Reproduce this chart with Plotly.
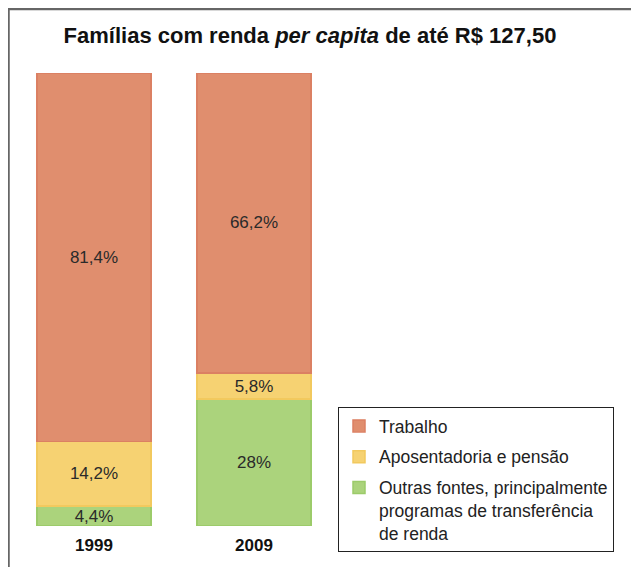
import plotly.graph_objects as go

years = ["1999", "2009"]
trabalho = [81.4, 66.2]
aposentadoria = [14.2, 5.8]
outras = [4.4, 28.0]
labels_trabalho = ["81,4%", "66,2%"]
labels_aposentadoria = ["14,2%", "5,8%"]
labels_outras = ["4,4%", "28%"]

names = ["Trabalho", "Aposentadoria e pensão",
         "Outras fontes, principalmente<br>programas de transferência<br>de renda"]
fills = ["#E08E6E", "#F6D272", "#ABD37C"]
edges = ["#DB8063", "#F2C95E", "#9CCB6A"]

FONT = "Liberation Sans, Arial, sans-serif"

fig = go.Figure()
series = [(outras, labels_outras, 2), (aposentadoria, labels_aposentadoria, 1), (trabalho, labels_trabalho, 0)]
for vals, labs, i in series:
    fig.add_trace(go.Bar(
        x=years, y=vals, name=names[i], text=labs, legendgroup=f"g{i}",
        legendrank=1000 + i,
        textposition="inside", insidetextanchor="middle",
        textfont=dict(family=FONT, size=17, color="#2a2a2a"),
        marker=dict(color=fills[i], line=dict(color=edges[i], width=1.5)),
        hoverinfo="skip",
    ))

# page body adds an 8px offset, so pixel positions are figure-relative
L, T, W, H = 6, 65, 320, 453
fig.update_layout(
    width=639, height=567,
    margin=dict(l=L, r=639 - L - W, t=T, b=567 - T - H, pad=0),
    barmode="stack", bargap=0.2875,
    paper_bgcolor="white", plot_bgcolor="white",
    font=dict(family=FONT, color="#111"),
    title=dict(text="<b>Famílias com renda <i>per capita</i> de até R$ 127,50</b>",
               x=302 / 639, xanchor="center", y=1 - 27 / 567, yanchor="middle",
               font=dict(family=FONT, size=22, color="#111")),
    xaxis=dict(type="category", range=[-0.5, 1.5], showgrid=False, showline=False,
               ticks="", tickfont=dict(family=FONT, size=17, color="#111"),
               tickprefix="<b>", ticksuffix="</b>", ticklabelstandoff=7),
    yaxis=dict(range=[0, 100], visible=False),
    uniformtext=dict(minsize=17, mode="show"),
    legend=dict(x=(330 - L) / W, xanchor="left", y=(T + H - 399) / H, yanchor="top",
                bordercolor="#222", borderwidth=1, bgcolor="white",
                font=dict(family=FONT, size=17.5, color="#222"),
                traceorder="grouped", itemwidth=30, tracegroupgap=5, valign="top"),
    showlegend=True,
)

# outer frame
fig.add_shape(type="rect", xref="paper", yref="paper",
              x0=(0.5 - L) / W, x1=(700 - L) / W,
              y0=(T + H - 650) / H, y1=(T + H - 1) / H,
              line=dict(color="#666", width=2.5), fillcolor="rgba(0,0,0,0)", layer="below")

fig.write_html("out.html", post_script="document.body.style.overflow='hidden';")
